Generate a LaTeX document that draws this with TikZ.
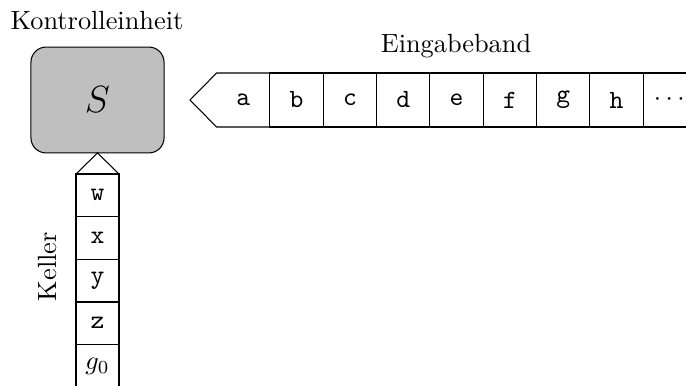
\documentclass[tikz,border=0pt]{standalone}
\begin{document}
\begin{tikzpicture}[x=0.38pt, y=-0.38pt,
  every node/.style={inner sep=0pt, outer sep=0pt},
  control/.style={draw, fill=gray!50, rounded corners=5.75pt,
    minimum width=50.57pt, minimum height=40.24pt, font=\Large},
  tapecell/.style={minimum width=20.27pt, minimum height=20.52pt, font=\ttfamily},
  tapebox/.style={tapecell, draw},
  stackcell/.style={minimum width=16.34pt, minimum height=16.21pt, font=\ttfamily},
  stackbox/.style={stackcell, draw},
  caption/.style={anchor=base}
]
\useasboundingbox (0,0) rectangle (686,385);

% control unit
\node[control] (ctl) at (97.5,100) {$S$};
\node[caption] (ctllabel) at (97,29) {Kontrolleinheit};

% input tape
\node[tapecell] (ta) at (243.3,100) {a};
\foreach \t [count=\i] in {b,c,d,e,f,g,h}
  \node[tapebox] (t\i) at ({243.3+53.33*\i},100) {\t};
\node[tapecell] (tdots) at (669.3,100) {$\cdots$};
\coordinate (tip) at (190,100);
\draw (ta.north east) -- (ta.north west) -- (tip) -- (ta.south west) -- (ta.south east);
\draw (t7.north east) -- (tdots.north east);
\draw (t7.south east) -- (tdots.south east);
\node[caption] (tapelabel) at (456,52.3) {Eingabeband};

% stack
\node[stackbox] (s1) at (97.5,195.3) {w};
\node[stackbox] (s2) at (97.5,238) {x};
\node[stackbox] (s3) at (97.5,280.7) {y};
\node[stackbox] (s4) at (97.5,323.3) {z};
\node[stackcell] (s5) at (97.5,366) {$g_0$};
\draw (s1.north west) -- (ctl.south) -- (s1.north east);
\draw (s4.south west) -- (s5.south west);
\draw (s4.south east) -- (s5.south east);
\node[caption, rotate=90] (stacklabel) at (56.7,266.7) {Keller};
\end{tikzpicture}
\end{document}
